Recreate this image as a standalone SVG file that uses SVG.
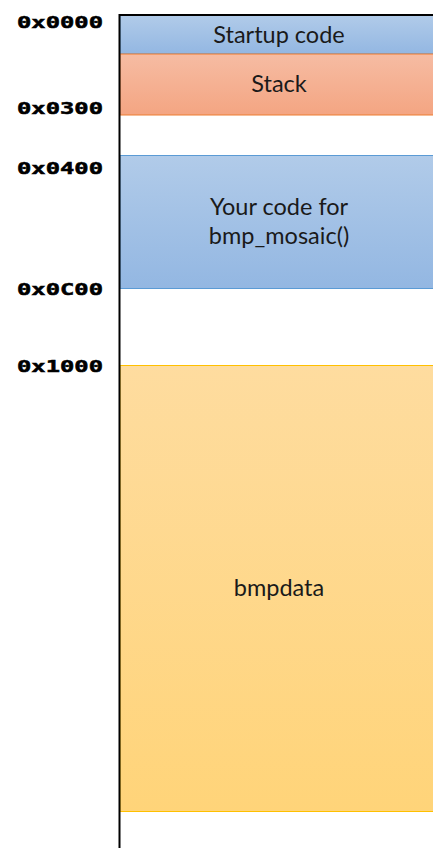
<svg xmlns="http://www.w3.org/2000/svg" width="433" height="848" viewBox="0 0 433 848">
  <defs>
    <linearGradient id="gBlue" x1="0" y1="0" x2="0" y2="1">
      <stop offset="0" stop-color="#b1cbe9"/>
      <stop offset="1" stop-color="#93b7e2"/>
    </linearGradient>
    <linearGradient id="gOrange" x1="0" y1="0" x2="0" y2="1">
      <stop offset="0" stop-color="#f6bca3"/>
      <stop offset="1" stop-color="#f4a582"/>
    </linearGradient>
    <linearGradient id="gGold" x1="0" y1="0" x2="0" y2="1">
      <stop offset="0" stop-color="#fedc9f"/>
      <stop offset="1" stop-color="#ffd479"/>
    </linearGradient>
    <style>
      .addr { font-family: "DejaVu Sans Mono", "Liberation Mono", monospace; font-weight: bold; font-size: 16.5px; fill: #000; stroke: #000; stroke-width: 0.5px; text-anchor: end; }
      .lbl { font-family: Lato, "Liberation Sans", sans-serif; font-size: 23.5px; fill: #1a1a1a; text-anchor: middle; }
      .axis { stroke: #000; stroke-width: 2; fill: none; }
    </style>
  </defs>

  <!-- memory regions -->
  <g id="startup">
    <rect x="120" y="15" width="314" height="39" fill="url(#gBlue)" stroke="#5b9bd5" stroke-width="1"/>
    <text class="lbl" x="279" y="43">Startup code</text>
  </g>
  <g id="stack">
    <rect x="120" y="54" width="314" height="61" fill="url(#gOrange)" stroke="#ed7d31" stroke-width="1"/>
    <text class="lbl" x="279" y="92">Stack</text>
  </g>
  <g id="usercode">
    <rect x="120" y="155.5" width="314" height="133" fill="url(#gBlue)" stroke="#5b9bd5" stroke-width="1"/>
    <text class="lbl" x="279" y="215">Your code for</text>
    <text class="lbl" x="279" y="244">bmp_mosaic()</text>
  </g>
  <g id="bmpdata">
    <rect x="120" y="365.5" width="314" height="446" fill="url(#gGold)" stroke="#ffc000" stroke-width="1"/>
    <text class="lbl" x="279" y="596">bmpdata</text>
  </g>

  <!-- address axis -->
  <g id="axis">
    <path class="axis" d="M119.5 848 V15 H433"/>
  </g>

  <!-- address labels -->
  <g id="addresses">
    <text class="addr" x="103" y="27.5" textLength="86" lengthAdjust="spacingAndGlyphs">0x0000</text>
    <text class="addr" x="103" y="113.5" textLength="86" lengthAdjust="spacingAndGlyphs">0x0300</text>
    <text class="addr" x="103" y="173.5" textLength="86" lengthAdjust="spacingAndGlyphs">0x0400</text>
    <text class="addr" x="103" y="294.5" textLength="86" lengthAdjust="spacingAndGlyphs">0x0C00</text>
    <text class="addr" x="103" y="371.5" textLength="86" lengthAdjust="spacingAndGlyphs">0x1000</text>
  </g>
</svg>
